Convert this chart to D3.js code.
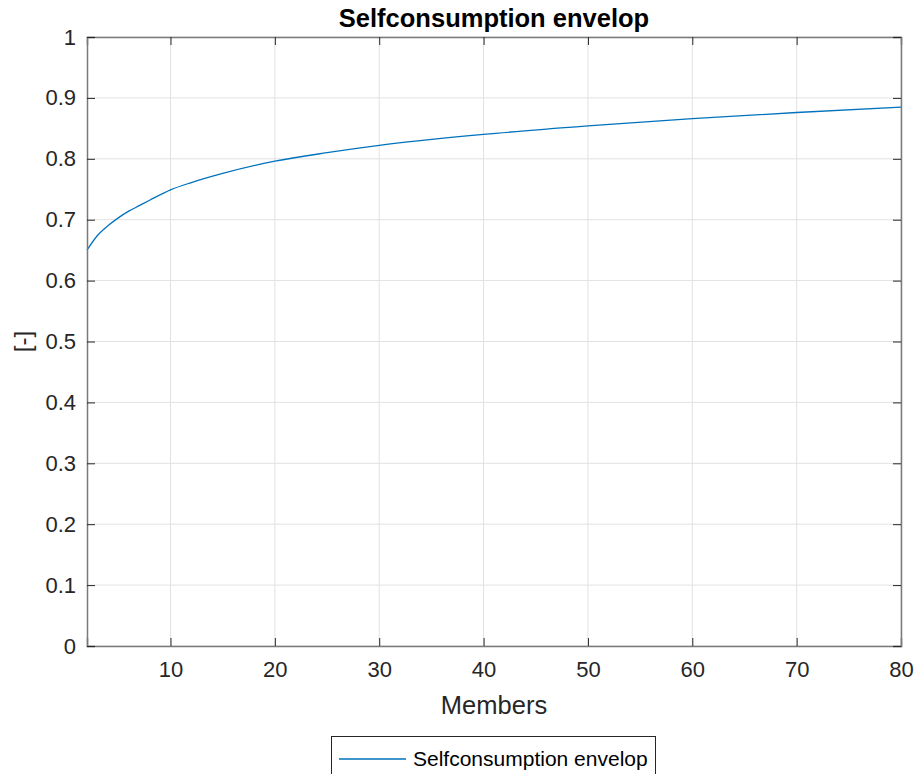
<!DOCTYPE html>
<html>
<head>
<meta charset="utf-8">
<script src="https://cdn.jsdelivr.net/npm/d3@7"></script>
<style>
  html, body { margin: 0; padding: 0; background: #fff; }
  svg { display: block; font-family: "Liberation Sans", Arial, Helvetica, sans-serif; }
</style>
</head>
<body>
<script>
// Self-consumption envelope versus number of community members
const members = [2, 3, 4, 5, 6, 7, 8, 10, 12, 15, 20, 25, 30, 40, 50, 60, 70, 80];
const selfConsumption = [0.650, 0.674, 0.690, 0.703, 0.714, 0.723, 0.732, 0.749, 0.761, 0.776,
                         0.796, 0.810, 0.822, 0.840, 0.854, 0.866, 0.876, 0.885];
const xTicks = [10, 20, 30, 40, 50, 60, 70, 80];
const yTicks = [0, 0.1, 0.2, 0.3, 0.4, 0.5, 0.6, 0.7, 0.8, 0.9, 1];
const titleText = "Selfconsumption envelop";
const xLabel = "Members";
const yLabel = "[-]";
const seriesName = "Selfconsumption envelop";

const W = 917, H = 774;
const plot = { left: 87, right: 901, top: 37, bottom: 646 };
const axisColor = "#262626";
const boxColor = "#7a7a7a";
const gridColor = "#e2e2e2";
const lineColor = "#0072BD";

const svg = d3.select("body").append("svg").attr("width", W).attr("height", H);

const x = d3.scaleLinear().domain([2, 80]).range([plot.left, plot.right]);
const y = d3.scaleLinear().domain([0, 1]).range([plot.bottom, plot.top]);

// grid
const grid = svg.append("g");
grid.selectAll("line.gx").data(xTicks).join("line")
  .attr("x1", d => x(d)).attr("x2", d => x(d))
  .attr("y1", plot.top).attr("y2", plot.bottom)
  .attr("stroke", gridColor).attr("stroke-width", 1);
grid.selectAll("line.gy").data(yTicks).join("line")
  .attr("x1", plot.left).attr("x2", plot.right)
  .attr("y1", d => y(d)).attr("y2", d => y(d))
  .attr("stroke", gridColor).attr("stroke-width", 1);

// data line
const line = d3.line().x((d, i) => x(members[i])).y(d => y(d)).curve(d3.curveMonotoneX);
svg.append("path").datum(selfConsumption)
  .attr("d", line).attr("fill", "none")
  .attr("stroke", lineColor).attr("stroke-width", 1.3);

// axes: inward ticks on all four sides
const tickLen = 8;
const fontTick = 22;
const bottomAxis = d3.axisBottom(x).tickValues(xTicks).tickSize(-tickLen).tickPadding(tickLen + 7).tickFormat(d3.format("d"));
const topAxis = d3.axisTop(x).tickValues(xTicks).tickSize(-tickLen).tickFormat("");
const leftAxis = d3.axisLeft(y).tickValues(yTicks).tickSize(-tickLen).tickPadding(tickLen + 3).tickFormat(d => d3.format("")(+d.toFixed(1)));
const rightAxis = d3.axisRight(y).tickValues(yTicks).tickSize(-tickLen).tickFormat("");

function style(g) {
  g.select(".domain").attr("stroke", boxColor).attr("stroke-width", 1.5);
  g.selectAll(".tick line").attr("stroke", axisColor).attr("stroke-width", 1);
  g.selectAll(".tick text").attr("fill", axisColor).attr("font-size", fontTick).attr("font-family", null);
}
svg.append("g").attr("transform", `translate(0,${plot.bottom})`).call(bottomAxis).call(style);
svg.append("g").attr("transform", `translate(0,${plot.top})`).call(topAxis).call(style);
svg.append("g").attr("transform", `translate(${plot.left},0)`).call(leftAxis).call(style);
svg.append("g").attr("transform", `translate(${plot.right},0)`).call(rightAxis).call(style);

// title and axis labels
svg.append("text").attr("x", (plot.left + plot.right) / 2).attr("y", 27)
  .attr("text-anchor", "middle").attr("font-weight", "bold").attr("font-size", 25.5)
  .attr("fill", "#000").text(titleText);
svg.append("text").attr("x", (plot.left + plot.right) / 2).attr("y", 714)
  .attr("text-anchor", "middle").attr("font-size", 25.5).attr("fill", axisColor).text(xLabel);
svg.append("text").attr("transform", `translate(31,${(plot.top + plot.bottom) / 2}) rotate(-90)`)
  .attr("text-anchor", "middle").attr("font-size", 24).attr("fill", axisColor).text(yLabel);

// legend
const leg = svg.append("g");
leg.append("rect").attr("x", 331.5).attr("y", 736.5).attr("width", 324).attr("height", 50)
  .attr("fill", "#fff").attr("stroke", axisColor).attr("stroke-width", 1);
leg.append("line").attr("x1", 339).attr("x2", 406).attr("y1", 759).attr("y2", 759)
  .attr("stroke", lineColor).attr("stroke-width", 1.3);
leg.append("text").attr("x", 413).attr("y", 766).attr("font-size", 21).attr("fill", "#000").text(seriesName);
</script>
</body>
</html>
